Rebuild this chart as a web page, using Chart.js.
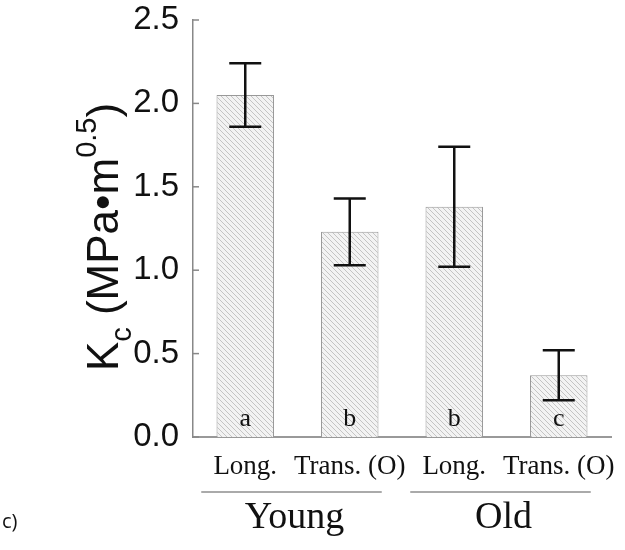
<!DOCTYPE html>
<html>
<head>
<meta charset="utf-8">
<script src="https://cdn.jsdelivr.net/npm/chart.js@4.4.0/dist/chart.umd.min.js"></script>
<style>
  body { margin: 0; background: #fff; }
  #wrap { width: 625px; height: 550px; }
</style>
</head>
<body>
<div id="wrap"><canvas id="myChart"></canvas></div>
<script>
// data
var categories = ['Long.', 'Trans. (O)', 'Long.', 'Trans. (O)'];
var groups = ['Young', 'Old'];
var groupSpans = [[0, 1], [2, 3]];
var values = [2.05, 1.23, 1.38, 0.37];
var errors = [0.19, 0.20, 0.36, 0.15];
var letters = ['a', 'b', 'b', 'c'];
var yTicks = [0, 0.5, 1.0, 1.5, 2.0, 2.5];

// hatch fill for the bars
function hatch() {
  var c = document.createElement('canvas');
  c.width = 5; c.height = 5;
  var g = c.getContext('2d');
  g.fillStyle = '#f3f3f3';
  g.fillRect(0, 0, 5, 5);
  g.strokeStyle = '#c4c4c4';
  g.lineWidth = 1;
  g.beginPath();
  g.moveTo(-1, -1); g.lineTo(6, 6);
  g.moveTo(-1, 4); g.lineTo(1, 6);
  g.moveTo(4, -1); g.lineTo(6, 1);
  g.stroke();
  return g.createPattern(c, 'repeat');
}

var serif = 'Liberation Serif';
var sans = 'Liberation Sans';

var extras = {
  id: 'extras',
  afterDatasetsDraw: function(chart) {
    var ctx = chart.ctx;
    var x = chart.scales.x, y = chart.scales.y;
    var meta = chart.getDatasetMeta(0);
    ctx.save();

    // inward y ticks
    ctx.strokeStyle = '#888';
    ctx.lineWidth = 1.5;
    yTicks.forEach(function(t) {
      var py = y.getPixelForValue(t);
      ctx.beginPath();
      ctx.moveTo(x.left, py);
      ctx.lineTo(x.left + 6, py);
      ctx.stroke();
    });

    // error bars
    ctx.strokeStyle = '#111';
    ctx.lineWidth = 2.5;
    meta.data.forEach(function(bar, i) {
      var hi = y.getPixelForValue(values[i] + errors[i]);
      var lo = y.getPixelForValue(values[i] - errors[i]);
      ctx.beginPath();
      ctx.moveTo(bar.x, hi); ctx.lineTo(bar.x, lo);
      ctx.moveTo(bar.x - 16, hi); ctx.lineTo(bar.x + 16, hi);
      ctx.moveTo(bar.x - 16, lo); ctx.lineTo(bar.x + 16, lo);
      ctx.stroke();
    });

    // significance letters
    ctx.fillStyle = '#111';
    ctx.font = '26px "' + serif + '"';
    ctx.textAlign = 'center';
    ctx.textBaseline = 'alphabetic';
    meta.data.forEach(function(bar, i) {
      ctx.fillText(letters[i], bar.x, y.getPixelForValue(0) - 11);
    });

    // group lines and labels
    groups.forEach(function(name, k) {
      var a = x.getPixelForValue(groupSpans[k][0]);
      var b = x.getPixelForValue(groupSpans[k][1]);
      ctx.strokeStyle = '#aaa';
      ctx.lineWidth = 2;
      ctx.beginPath();
      ctx.moveTo(a - 44, 492);
      ctx.lineTo(b + 32, 492);
      ctx.stroke();
      ctx.font = '38px "' + serif + '"';
      ctx.fillText(name, (a + b) / 2 - 3, 528);
    });

    // y title  K_c (MPa•m^0.5)
    ctx.translate(118, 237);
    ctx.rotate(-Math.PI / 2);
    var parts = [
      ['K', 44, 0], ['c', 29, 13], [' (MPa\u2022m', 44, 0], ['0.5', 29, -22], [')', 44, 0]
    ];
    var total = 0;
    parts.forEach(function(p) {
      ctx.font = p[1] + 'px "' + sans + '"';
      p.push(ctx.measureText(p[0]).width);
      total += p[3];
    });
    var cx = -total / 2;
    ctx.textAlign = 'left';
    parts.forEach(function(p) {
      ctx.font = p[1] + 'px "' + sans + '"';
      ctx.fillText(p[0], cx, p[2]);
      cx += p[3];
    });
    ctx.restore();

    // panel label
    ctx.save();
    ctx.fillStyle = '#111';
    ctx.font = '20px "Open Sans"';
    ctx.textAlign = 'left';
    ctx.fillText('c)', 2, 528);
    ctx.restore();
  }
};

var ctx = document.getElementById('myChart').getContext('2d');

var myChart = new Chart(ctx, {
  type: 'bar',
  data: {
    labels: categories,
    datasets: [{
      data: values,
      backgroundColor: hatch(),
      borderColor: '#999',
      borderWidth: 1,
      categoryPercentage: 1,
      barPercentage: 0.55
    }]
  },
  options: {
    responsive: true,
    maintainAspectRatio: false,
    animation: false,
    layout: { padding: { top: 20, right: 14, left: 0, bottom: 0 } },
    plugins: { legend: { display: false }, tooltip: { enabled: false } },
    scales: {
      x: {
        grid: { display: false, drawTicks: false },
        border: { color: '#999', width: 2 },
        ticks: {
          color: '#111', padding: 14, autoSkip: false, maxRotation: 0, minRotation: 0,
          font: { family: serif, size: 27 }
        },
        afterFit: function(s) {
          s.height = 113;
          s.paddingLeft = 0; s.paddingRight = 0;
        }
      },
      y: {
        min: 0, max: 2.5,
        grid: { display: false, drawTicks: false },
        border: { color: '#888', width: 1.5 },
        ticks: {
          stepSize: 0.5, color: '#111', padding: 14,
          font: { family: sans, size: 33 },
          callback: function(v) { return v.toFixed(1); }
        },
        afterFit: function(s) {
          s.width = 193;
          s.paddingTop = 0; s.paddingBottom = 0;
        }
      }
    }
  },
  plugins: [extras]
});
</script>
</body>
</html>
